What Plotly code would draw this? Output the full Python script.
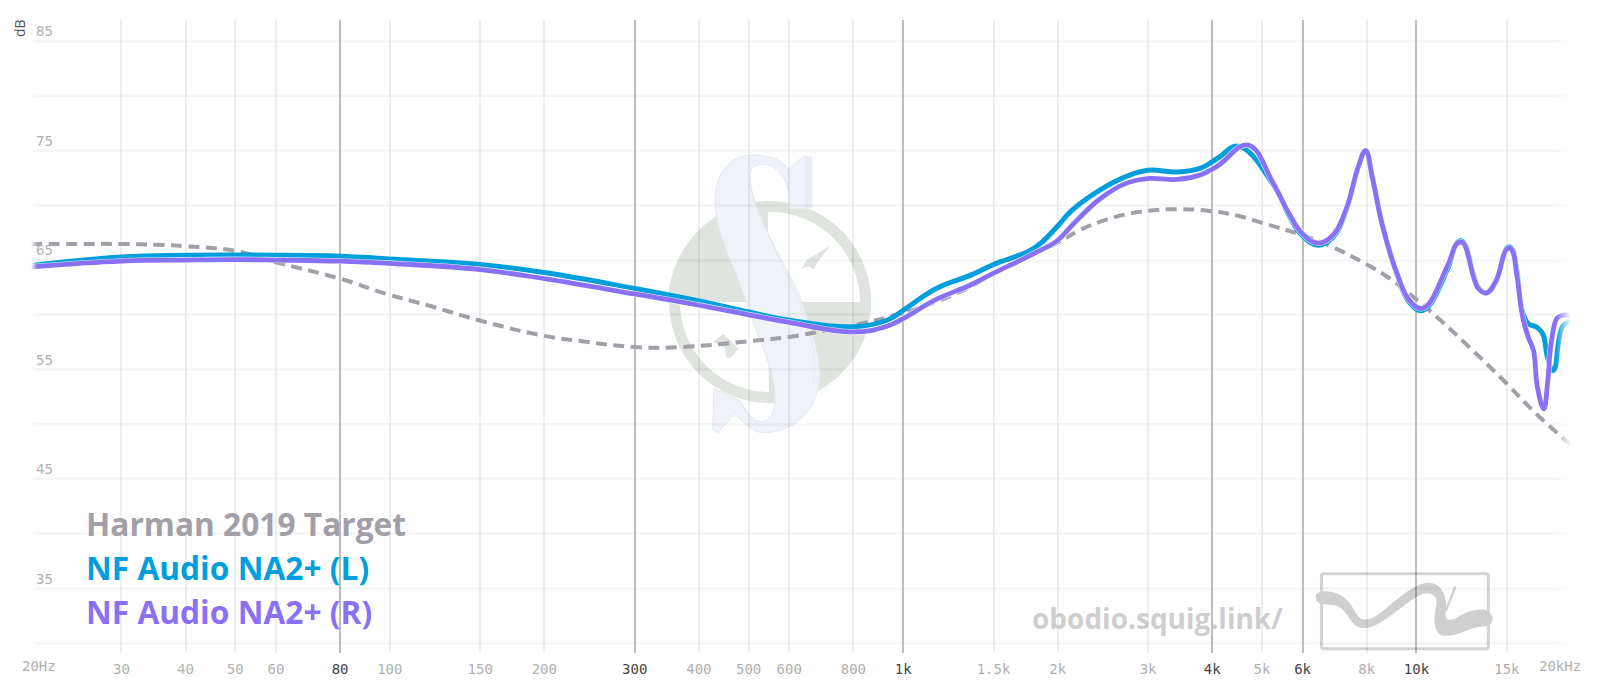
import base64
import plotly.graph_objects as go

# ---------- data ----------
target_freq = [20, 25, 30, 35, 40, 50, 60, 80, 98.6, 120, 149, 200, 235, 300, 369, 500, 600, 710, 800, 1000, 1160,
               1350, 1500, 1800, 2000, 2200, 2420, 2730, 3000, 3420, 4000, 4530, 5000, 6000, 6780, 8000, 8880, 10000,
               11260, 12700, 15000, 16900, 20000]
target_db = [66.45, 66.47, 66.47, 66.4, 66.26, 65.83, 64.8, 63.3, 61.9, 60.8, 59.5, 58.07, 57.6, 57.05, 57.05,
             57.58, 57.97, 58.6, 59.04, 60.17, 61.2, 62.55, 63.8, 65.6, 66.6, 67.7, 68.5, 69.2, 69.5, 69.65, 69.46,
             69.0, 68.4, 67.27, 66.3, 64.6, 63.3, 61.4, 59.3, 57.0, 53.7, 51.2, 48.1]

left_freq = [20, 30, 40, 60, 80, 100, 150, 200, 300, 400, 500, 600, 800, 930, 1000, 1160,
             1350, 1500, 1800, 2000, 2116, 2420, 2730, 3000, 3420, 3800, 4100, 4500, 5260, 5670, 6000,
             6430, 6880, 7300, 7700, 7960, 8200, 8600, 9160, 9700, 10300, 11500, 12000, 12300, 13200,
             13700, 14300, 15000, 15300, 15700, 16000, 16500, 17100, 17600, 18000, 18400, 18600, 18900, 19300, 20000]
left_db = [64.5, 65.28, 65.44, 65.44, 65.35, 65.1, 64.6, 63.86, 62.4, 61.26, 60.25, 59.5,
           58.9, 59.5, 60.4, 62.4, 63.6, 64.6, 66.1, 68.1, 69.4, 71.4, 72.66, 73.2, 73.05, 73.4,
           74.3, 75.4, 71.9, 68.9, 67.2, 66.35, 67.1, 69.6, 73.5, 75.0, 72.6, 68.0, 63.7, 61.1, 60.4,
           64.2, 66.6, 66.7, 62.5, 62.0, 63.1, 66.1, 66.1, 63.9, 60.7, 59.2, 58.9, 58.3, 56.1, 54.9, 55.1, 57.4,
           59.0, 59.4]

right_freq = [20, 30, 40, 50, 60, 80, 100, 150, 200, 300, 400, 500, 600, 800, 930, 1000, 1160,
              1350, 1500, 1800, 2000, 2116, 2420, 2730, 3000, 3420, 3800, 4100, 4700, 5260,
              5670, 6000, 6430, 6880, 7300, 7700, 7960, 8200, 8600, 9160, 9700, 10300, 11500, 12000, 12300,
              13200, 13700, 14300, 15000, 15300, 15700, 16100, 16500, 16900, 17200, 17700, 18000, 18300, 18800, 19300, 20000]
right_db = [64.37, 64.9, 65.0, 65.04, 65.0, 64.9, 64.7, 64.13, 63.3, 61.9, 60.87, 60.0, 59.3,
            58.43, 58.95, 59.65, 61.4, 62.7, 63.8, 65.6, 66.8, 68.0, 70.6, 72.05, 72.45, 72.36,
            72.8, 73.6, 75.5, 72.0, 69.1, 67.4, 66.55, 67.3, 69.7, 73.5, 75.0, 72.6, 68.0, 63.8, 61.3,
            60.6, 64.5, 66.5, 66.6, 62.4, 62.0, 63.15, 66.0, 66.0, 63.5, 59.8, 58.0, 56.75, 53.4, 51.4, 53.7, 57.4,
            59.7, 59.95, 59.95]

light_ticks = [30, 40, 50, 60, 100, 150, 200, 400, 500, 600, 800, 1500, 2000, 3000, 5000, 8000, 15000]
light_labels = ["30", "40", "50", "60", "100", "150", "200", "400", "500", "600", "800", "1.5k", "2k", "3k", "5k", "8k", "15k"]
dark_ticks = [80, 300, 1000, 4000, 6000, 10000]
dark_labels = ["80", "300", "1k", "4k", "6k", "10k"]
db_grid = [30, 35, 40, 45, 50, 55, 60, 65, 70, 75, 80, 85]
db_labels = ["", "35", "", "45", "", "55", "", "65", "", "75", "", "85"]

target_name = "Harman 2019 Target"
left_name = "NF Audio NA2+ (L)"
right_name = "NF Audio NA2+ (R)"
site_label = "obodio.squig.link/"

# ---------- styles ----------
W, H = 1600, 692
ML, MR, MT, MB = 31, 29, 20, 39
PW, PH = W - ML - MR, H - MT - MB
GREY, BLUE, PURPLE = "#a39fa8", "#009fdb", "#8a70f5"
MONO = "DejaVu Sans Mono"
SANS = "Open Sans"
X_RANGE = [1.30103, 4.30103]
Y_RANGE = [29.1, 86.93]
SMOOTH = 1.2


def px(x):
    return (x - ML) / PW


def py(y):
    return 1 - (y - MT) / PH


def svg_uri(body, extra=""):
    svg = (f'<svg xmlns="http://www.w3.org/2000/svg" width="{PW}" height="{PH}" viewBox="{ML} {MT} {PW} {PH}" '
           f'preserveAspectRatio="none">{extra}{body}</svg>')
    return "data:image/svg+xml;base64," + base64.b64encode(svg.encode()).decode()


RING = "#dfe4df"
S_FILL = "#eff3f9"
S_EDGE = "#e3e7ef"
watermark = f'''
<g>
<circle cx="770" cy="302" r="95.5" fill="none" stroke="{RING}" stroke-width="11"/>
<path d="M668,302 A102,102 0 0 1 768,202 L768,302 Z" fill="{RING}"/>
<path d="M768,302 L871,302 A102,102 0 0 1 769,402 Z" fill="{RING}"/>
</g>
<g transform="translate(640,140) scale(0.3333)">
<path d="M485,385 L500,360 L570,318 L530,370 L522,388 L510,380 Z" fill="{RING}"/>
<path d="M220,605 L250,582 L295,625 L285,640 L270,655 L258,650 L255,625 Z" fill="{RING}"/>
<path d="M445,85 L490,47 L517,50 L517,205 L445,205 Z" fill="#e9edf4"/>
<path d="M445,85 L490,47 L495,50 L495,205 L445,205 Z" fill="{S_FILL}"/>
<path d="M340,45 C265,45 225,105 225,180 C225,270 275,360 320,490 C360,610 410,700 405,790
         C400,830 380,848 360,845 C335,842 310,800 300,782 L222,745 L218,870 L235,878 L285,820
         C310,850 340,878 370,878 C470,878 540,800 540,700 C540,650 520,590 490,500
         C470,430 380,290 345,190 C325,130 325,85 345,78 C380,62 430,85 445,150 L445,85 C420,55 380,45 340,45 Z"
      fill="{S_FILL}" stroke="{S_EDGE}" stroke-width="3"/>
<path d="M330,120 C340,230 470,430 515,600 C525,650 525,700 520,740" fill="none" stroke="{S_EDGE}" stroke-width="3"/>
</g>
<g transform="translate(1000,540) scale(0.3827)">
<rect x="840" y="88" width="436" height="196" rx="6" fill="none" stroke="#d4d4d4" stroke-width="8"/>
<path d="M825,148 C825,128 880,128 910,160 C930,185 935,212 960,208 C1000,203 1060,115 1120,112
         C1155,112 1170,150 1165,185 C1160,210 1170,212 1190,205 C1215,190 1240,178 1270,183
         C1297,195 1292,228 1260,226 C1230,226 1195,254 1160,250 C1130,247 1133,200 1140,170
         C1145,150 1130,135 1110,140 C1060,155 1000,232 950,230 C912,228 915,188 880,172 C860,165 825,175 825,148 Z"
      fill="#cfcfcf"/>
<path d="M1165,185 L1190,122" stroke="#cfcfcf" stroke-width="6" fill="none"/>
</g>
'''

fade_defs = '''<defs>
<linearGradient id="l"><stop offset="0" stop-color="#fff" stop-opacity="1"/><stop offset="1" stop-color="#fff" stop-opacity="0"/></linearGradient>
<linearGradient id="r"><stop offset="0" stop-color="#fff" stop-opacity="0"/><stop offset="1" stop-color="#fff" stop-opacity="1"/></linearGradient>
</defs>'''
fade = f'''<rect x="31" y="20" width="6" height="633" fill="url(#l)"/>
<rect x="1556" y="20" width="15" height="633" fill="url(#r)"/>'''

fig = go.Figure()


def curve(xs, ys, color, width, name, axis="x2", dash=None):
    fig.add_trace(go.Scatter(x=xs, y=ys, mode="lines", name=name, xaxis=axis, yaxis="y", hoverinfo="skip",
                             line=dict(color=color, width=width, dash=dash, shape="spline", smoothing=SMOOTH)))


curve(target_freq, target_db, GREY, 4, target_name, axis="x", dash="11px,6.5px")
curve(left_freq, left_db, BLUE, 5, left_name)
curve(right_freq, right_db, "rgba(255,255,255,0.8)", 6, right_name + " outline")
curve(right_freq, right_db, PURPLE, 4.8, right_name)

annots = []


def label(text, x, y, size, color, family=SANS, bold=False, anchor="left", angle=0):
    annots.append(dict(text=f"<b>{text}</b>" if bold else text, x=px(x), y=py(y), xref="paper", yref="paper",
                       xanchor=anchor, yanchor="middle", showarrow=False, textangle=angle,
                       font=dict(family=family, size=size, color=color)))


label(target_name, 84, 523, 31.7, GREY, bold=True)
label(left_name, 84, 567, 31.7, BLUE, bold=True)
label(right_name, 84, 611, 31.7, PURPLE, bold=True)
label(site_label, 1030, 618, 28, "rgba(190,190,190,0.75)", bold=True)
label("dB", 20, 28, 14, "#555555", anchor="center", angle=-90)
label("20Hz", 39, 666, 14, "#b0b0b0", family=MONO, anchor="center")
label("20kHz", 1560, 666, 14, "#b0b0b0", family=MONO, anchor="center")

common_x = dict(type="log", range=X_RANGE, showline=False, zeroline=False, ticks="outside", ticklen=3,
                tickcolor="rgba(0,0,0,0)", tickmode="array", tickangle=0)

fig.update_layout(
    width=W, height=H, margin=dict(l=ML, r=MR, t=MT, b=MB, pad=0, autoexpand=False),
    paper_bgcolor="white", plot_bgcolor="rgba(0,0,0,0)", showlegend=False,
    xaxis=dict(**common_x, tickvals=light_ticks, ticktext=light_labels, showgrid=True,
               gridcolor="rgba(0,0,0,0.065)", gridwidth=2,
               tickfont=dict(family=MONO, size=14, color="#b0b0b0")),
    xaxis2=dict(**common_x, overlaying="x", side="bottom", anchor="y", tickvals=dark_ticks, ticktext=dark_labels,
                showgrid=True, gridcolor="rgba(0,0,0,0.26)", gridwidth=2,
                tickfont=dict(family=MONO, size=14, color="#444444")),
    yaxis=dict(range=Y_RANGE, tickmode="array", tickvals=db_grid, ticktext=db_labels, showgrid=True,
               gridcolor="rgba(0,0,0,0.03)", gridwidth=3, zeroline=False, showline=False, ticks="",
               ticklabelposition="inside top", ticklabelstandoff=2,
               tickfont=dict(family=MONO, size=14, color="#b0b0b0")),
    images=[
        dict(source=svg_uri(watermark), xref="paper", yref="paper", x=0, y=1, sizex=1, sizey=1,
             xanchor="left", yanchor="top", sizing="stretch", layer="below"),
        dict(source=svg_uri(fade, fade_defs), xref="paper", yref="paper", x=0, y=1, sizex=1, sizey=1,
             xanchor="left", yanchor="top", sizing="stretch", layer="above"),
    ],
    annotations=annots,
)

fig.write_html("out.html", config={"displayModeBar": False}, post_script="document.body.style.margin='0';")
